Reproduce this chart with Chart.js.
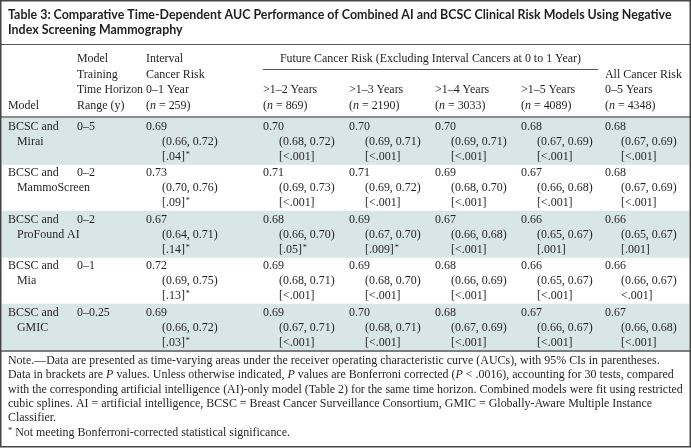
<!DOCTYPE html>
<html>
<head>
<meta charset="utf-8">
<script src="https://cdn.jsdelivr.net/npm/chart.js@4.4.0/dist/chart.umd.min.js"></script>
<style>
  html,body{margin:0;padding:0;background:#fff;}
  #tbl{display:block;}
</style>
</head>
<body>
<canvas id="tbl" width="691" height="448"></canvas>
<script>
/* Table 3 drawn on a Chart.js canvas: shaded rows are bars on a hidden category axis */
const titleLines = [
  'Table 3: Comparative Time-Dependent AUC Performance of Combined AI and BCSC Clinical Risk Models Using Negative',
  'Index Screening Mammography'
];
const models   = ['Mirai', 'MammoScreen', 'ProFound AI', 'Mia', 'GMIC'];
const horizons = ['0–5', '0–2', '0–2', '0–1', '0–0.25'];
const periods  = ['0–1 Year', '>1–2 Years', '>1–3 Years', '>1–4 Years', '>1–5 Years', '0–5 Years'];
const nCases   = [259, 869, 2190, 3033, 4089, 4348];
const shaded   = [1, 0, 1, 0, 1];

// per model row, per period column
const auc = [
  [0.69, 0.70, 0.70, 0.70, 0.68, 0.68],
  [0.73, 0.71, 0.71, 0.69, 0.67, 0.68],
  [0.67, 0.68, 0.69, 0.67, 0.66, 0.66],
  [0.72, 0.69, 0.69, 0.68, 0.66, 0.66],
  [0.69, 0.69, 0.70, 0.68, 0.67, 0.67]
];
const ciLow = [
  [0.66, 0.68, 0.69, 0.69, 0.67, 0.67],
  [0.70, 0.69, 0.69, 0.68, 0.66, 0.67],
  [0.64, 0.66, 0.67, 0.66, 0.65, 0.65],
  [0.69, 0.68, 0.68, 0.66, 0.65, 0.66],
  [0.66, 0.67, 0.68, 0.67, 0.66, 0.66]
];
const ciHigh = [
  [0.72, 0.72, 0.71, 0.71, 0.69, 0.69],
  [0.76, 0.73, 0.72, 0.70, 0.68, 0.69],
  [0.71, 0.70, 0.70, 0.68, 0.67, 0.67],
  [0.75, 0.71, 0.70, 0.69, 0.67, 0.67],
  [0.72, 0.71, 0.71, 0.69, 0.67, 0.68]
];
const pVals = [
  ['[.04]', '[<.001]', '[<.001]', '[<.001]', '[<.001]', '[<.001]'],
  ['[.09]', '[<.001]', '[<.001]', '[<.001]', '[<.001]', '[<.001]'],
  ['[.14]', '[.05]', '[.009]', '[<.001]', '[.001]', '[.001]'],
  ['[.13]', '[<.001]', '[<.001]', '[<.001]', '[<.001]', '<.001]'],
  ['[.03]', '[<.001]', '[<.001]', '[<.001]', '[<.001]', '[<.001]']
];
const notSig = [
  [1, 0, 0, 0, 0, 0],
  [1, 0, 0, 0, 0, 0],
  [1, 1, 1, 0, 0, 0],
  [1, 0, 0, 0, 0, 0],
  [1, 0, 0, 0, 0, 0]
];
const noteLines = [
  'Note.—Data are presented as time-varying areas under the receiver operating characteristic curve (AUCs), with 95% CIs in parentheses.',
  'Data in brackets are P values. Unless otherwise indicated, P values are Bonferroni corrected (P < .0016), accounting for 30 tests, compared',
  'with the corresponding artificial intelligence (AI)-only model (Table 2) for the same time horizon. Combined models were fit using restricted',
  'cubic splines. AI = artificial intelligence, BCSC = Breast Cancer Surveillance Consortium, GMIC = Globally-Aware Multiple Instance',
  'Classifier.',
  '* Not meeting Bonferroni-corrected statistical significance.'
];

const SERIF = '"Liberation Serif", "DejaVu Serif", serif';
const SANS  = 'Lato, "DejaVu Sans", sans-serif';
const INK = '#231f20';
const colX = [8, 77, 146, 263, 349, 435, 521, 605];
const IND = 16;
const f2 = v => v.toFixed(2);

let serifPx = 12, titlePx = 13;
function fitFonts(ctx){
  ctx.font = 'bold 20px ' + SANS;
  titlePx = 20 * 664 / ctx.measureText(titleLines[0]).width;
  ctx.font = '20px ' + SERIF;
  serifPx = 20 * 675 / ctx.measureText(noteLines[2]).width;
}
const sf = (s, it) => (it ? 'italic ' : '') + (serifPx * (s || 1)).toFixed(2) + 'px ' + SERIF;

// draw text with italic "n" / "P" pieces: parts = [[text, italic], ...]
function rich(ctx, parts, x, y){
  let cx = x;
  parts.forEach(([t, it]) => { ctx.font = sf(1, it); ctx.fillText(t, cx, y); cx += ctx.measureText(t).width; });
  return cx;
}
function line(ctx, x1, y1, x2, y2, w, c){
  ctx.save(); ctx.strokeStyle = c; ctx.lineWidth = w;
  ctx.beginPath(); ctx.moveTo(x1, y1); ctx.lineTo(x2, y2); ctx.stroke(); ctx.restore();
}

const tablePlugin = {
  id: 'tablePlugin',
  beforeDraw(chart){
    const ctx = chart.ctx;
    ctx.save(); ctx.fillStyle = '#fff'; ctx.fillRect(0, 0, chart.width, chart.height); ctx.restore();
  },
  afterDraw(chart){
    const ctx = chart.ctx, ys = chart.scales.y, area = chart.chartArea;
    fitFonts(ctx);
    ctx.save();
    ctx.fillStyle = INK; ctx.textBaseline = 'alphabetic'; ctx.textAlign = 'left';

    // title
    ctx.font = 'bold ' + titlePx.toFixed(2) + 'px ' + SANS;
    ctx.fillText(titleLines[0], 8, 19);
    ctx.fillText(titleLines[1], 8, 34);
    line(ctx, 1, 44.5, 690, 44.5, 1, '#555');

    // header
    const hb = [62, 77.7, 93.3, 109];
    ctx.font = sf();
    ctx.fillText('Model', colX[0], hb[3]);
    ['Model', 'Training', 'Time Horizon', 'Range (y)'].forEach((t, i) => ctx.fillText(t, colX[1], hb[i], 66));
    ['Interval', 'Cancer Risk', periods[0]].forEach((t, i) => ctx.fillText(t, colX[2], hb[i]));
    const spanL = colX[3], spanR = 598;
    ctx.textAlign = 'center';
    ctx.fillText('Future Cancer Risk (Excluding Interval Cancers at 0 to 1 Year)', (spanL + spanR) / 2, hb[0]);
    ctx.textAlign = 'left';
    line(ctx, spanL, 69.5, spanR, 69.5, 1, '#555');
    for (let j = 1; j <= 4; j++) ctx.fillText(periods[j], colX[j + 2], hb[2]);
    ctx.fillText('All Cancer Risk', colX[7], hb[1]);
    ctx.fillText(periods[5], colX[7], hb[2]);
    nCases.forEach((n, j) => rich(ctx, [['(', 0], ['n', 1], [' = ' + n + ')', 0]], colX[j + 2], hb[3]));
    line(ctx, 1, area.top - 1, 690, area.top - 1, 2, '#8c8c8c');

    // body rows, positioned from the category scale
    const step = ys.getPixelForValue(1) - ys.getPixelForValue(0);
    models.forEach((m, i) => {
      const top = ys.getPixelForValue(i) - step / 2;
      const b = [top + 11.5, top + 26.5, top + 41.5];
      ctx.font = sf();
      ctx.fillText('BCSC and', colX[0], b[0]);
      ctx.fillText(m, colX[0] + 9, b[1]);
      ctx.fillText(horizons[i], colX[1], b[0]);
      auc[i].forEach((v, j) => {
        const x = colX[j + 2];
        ctx.font = sf();
        ctx.fillText(f2(v), x, b[0]);
        ctx.fillText('(' + f2(ciLow[i][j]) + ', ' + f2(ciHigh[i][j]) + ')', x + IND, b[1]);
        ctx.fillText(pVals[i][j], x + IND, b[2]);
        if (notSig[i][j]) {
          const w = ctx.measureText(pVals[i][j]).width;
          ctx.font = sf(0.7);
          ctx.fillText('*', x + IND + w + 1, b[2] - 3);
        }
      });
    });
    line(ctx, 1, area.bottom + 0.5, 690, area.bottom + 0.5, 1.5, '#555');

    // notes
    const nb = [364, 378.3, 392.6, 407, 421.3, 435.6];
    rich(ctx, [[noteLines[0], 0]], 8, nb[0]);
    rich(ctx, [['Data in brackets are ', 0], ['P', 1], [' values. Unless otherwise indicated, ', 0], ['P', 1],
               [' values are Bonferroni corrected (', 0], ['P', 1], [' < .0016), accounting for 30 tests, compared', 0]], 8, nb[1]);
    rich(ctx, [[noteLines[2], 0]], 8, nb[2]);
    rich(ctx, [[noteLines[3], 0]], 8, nb[3]);
    rich(ctx, [[noteLines[4], 0]], 8, nb[4]);
    ctx.font = sf(0.7);
    ctx.fillText('*', 8, nb[5] - 3);
    ctx.font = sf();
    ctx.fillText(noteLines[5].slice(1), 8 + ctx.measureText('*').width * 0.7, nb[5]);

    // outer frame
    ctx.strokeStyle = '#444'; ctx.lineWidth = 1.5;
    ctx.strokeRect(0.75, 0.75, chart.width - 1.5, chart.height - 2);
    ctx.restore();
  }
};

new Chart(document.getElementById('tbl'), {
  type: 'bar',
  data: {
    labels: models,
    datasets: [{
      data: shaded,
      backgroundColor: '#d9e6e8',
      borderWidth: 0,
      barPercentage: 1,
      categoryPercentage: 1
    }]
  },
  options: {
    indexAxis: 'y',
    responsive: false,
    animation: false,
    devicePixelRatio: 1,
    layout: { padding: { top: 118, bottom: 97.5, left: 1.5, right: 1.5 } },
    plugins: { legend: { display: false }, tooltip: { enabled: false } },
    scales: {
      x: { display: false, min: 0, max: 1 },
      y: { display: false }
    }
  },
  plugins: [tablePlugin]
});
</script>
</body>
</html>
